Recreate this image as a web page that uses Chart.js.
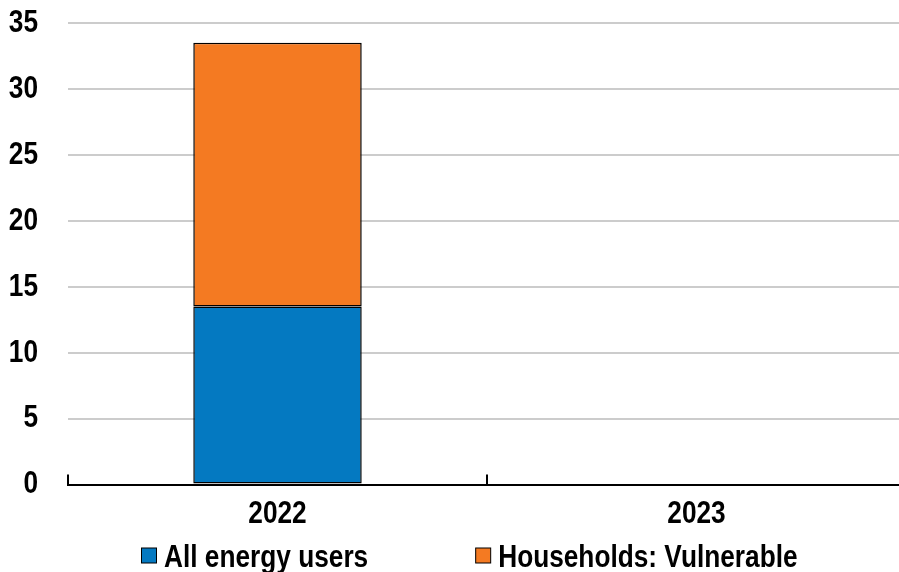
<!DOCTYPE html>
<html>
<head>
<meta charset="utf-8">
<script src="https://cdn.jsdelivr.net/npm/chart.js@4.4.1/dist/chart.umd.min.js"></script>
<style>
  html, body { margin: 0; padding: 0; background: #fff; overflow: hidden; }
  #wrap { width: 899px; height: 572px; overflow: hidden; }
  #chart { display: block; }
</style>
</head>
<body>
<div id="wrap"><canvas id="chart" width="907" height="572"></canvas></div>
<script>
// --- Data ---
const categories = ['2022', '2023'];
const allEnergyUsers = [13.5, 0];
const householdsVulnerable = [20, 0];
const yTicks = [0, 5, 10, 15, 20, 25, 30, 35];

const FONT = "'Liberation Sans', Arial, sans-serif";
const NARROW = 0.82; // Arial Narrow is roughly Arial squeezed to 82%

// --- Condensed text: squeeze every string the chart writes ---
const canvas = document.getElementById('chart');
const ctx2d = canvas.getContext('2d');
const origFill = ctx2d.fillText.bind(ctx2d);
const origMeasure = ctx2d.measureText.bind(ctx2d);
ctx2d.fillText = function (text, x, y) {
    this.save();
    this.translate(x, y);
    this.scale(NARROW, 1);
    origFill(text, 0, 0);
    this.restore();
};
ctx2d.measureText = function (text) {
    const m = origMeasure(text);
    return {
        width: m.width * NARROW,
        actualBoundingBoxAscent: m.actualBoundingBoxAscent,
        actualBoundingBoxDescent: m.actualBoundingBoxDescent,
        actualBoundingBoxLeft: m.actualBoundingBoxLeft * NARROW,
        actualBoundingBoxRight: m.actualBoundingBoxRight * NARROW
    };
};

// --- Small upward tick marks on the category axis ---
const innerTicks = {
    id: 'innerTicks',
    afterDatasetsDraw(chart) {
        const xs = chart.scales.x;
        const ctx = chart.ctx;
        const bottom = chart.chartArea.bottom;
        const step = xs.getPixelForValue(1) - xs.getPixelForValue(0);
        ctx.save();
        ctx.strokeStyle = '#000';
        ctx.lineWidth = 2;
        for (let i = 0; i <= categories.length; i++) {
            const x = Math.round(xs.getPixelForValue(0) - step / 2 + i * step);
            ctx.beginPath();
            ctx.moveTo(x, bottom - 10);
            ctx.lineTo(x, bottom);
            ctx.stroke();
        }
        ctx.restore();
    }
};

// --- Legend drawn under the axis (tight box-to-text gap) ---
const bottomLegend = {
    id: 'bottomLegend',
    afterDraw(chart) {
        const ctx = chart.ctx;
        let x = 141;
        const baseY = 566.5;
        ctx.save();
        ctx.font = 'bold 32px ' + FONT;
        ctx.textAlign = 'left';
        ctx.textBaseline = 'alphabetic';
        chart.data.datasets.forEach(ds => {
            ctx.fillStyle = ds.backgroundColor;
            ctx.fillRect(x + 0.5, 548, 15, 15);
            ctx.strokeStyle = '#000';
            ctx.lineWidth = 1;
            ctx.strokeRect(x + 0.5, 548, 15, 15);
            ctx.fillStyle = '#000';
            ctx.fillText(ds.label, x + 23, baseY);
            x += 23 + ctx.measureText(ds.label).width + 107;
        });
        ctx.restore();
    }
};

new Chart(ctx2d, {
    type: 'bar',
    data: {
        labels: categories,
        datasets: [
            {
                label: 'All energy users',
                data: allEnergyUsers,
                backgroundColor: '#0479C1',
                borderColor: '#000',
                borderWidth: 1.5,
                borderSkipped: false
            },
            {
                label: 'Households: Vulnerable',
                data: householdsVulnerable,
                backgroundColor: '#F47A22',
                borderColor: '#000',
                borderWidth: 1.5,
                borderSkipped: false
            }
        ]
    },
    options: {
        responsive: false,
        animation: false,
        events: [],
        datasets: {
            bar: { categoryPercentage: 1, barPercentage: 0.402 }
        },
        layout: {
            padding: { left: 8, right: 1, top: 23, bottom: 29 }
        },
        plugins: {
            legend: { display: false },
            tooltip: { enabled: false }
        },
        scales: {
            x: {
                stacked: true,
                grid: { display: false, drawTicks: false },
                border: { display: true, color: '#000', width: 2 },
                ticks: {
                    color: '#000',
                    padding: 10,
                    font: { family: FONT, size: 32, weight: 'bold' }
                }
            },
            y: {
                stacked: true,
                min: yTicks[0],
                max: yTicks[yTicks.length - 1],
                afterBuildTicks(scale) {
                    scale.ticks = yTicks.map(v => ({ value: v }));
                },
                afterFit(scale) {
                    scale.width = 60;
                    scale.paddingTop = 0;
                    scale.paddingBottom = 0;
                },
                grid: { color: '#cccccc', lineWidth: 2, drawTicks: false },
                border: { display: false },
                ticks: {
                    color: '#000',
                    padding: 30,
                    font: { family: FONT, size: 32, weight: 'bold' }
                }
            }
        }
    },
    plugins: [innerTicks, bottomLegend]
});
</script>
</body>
</html>
